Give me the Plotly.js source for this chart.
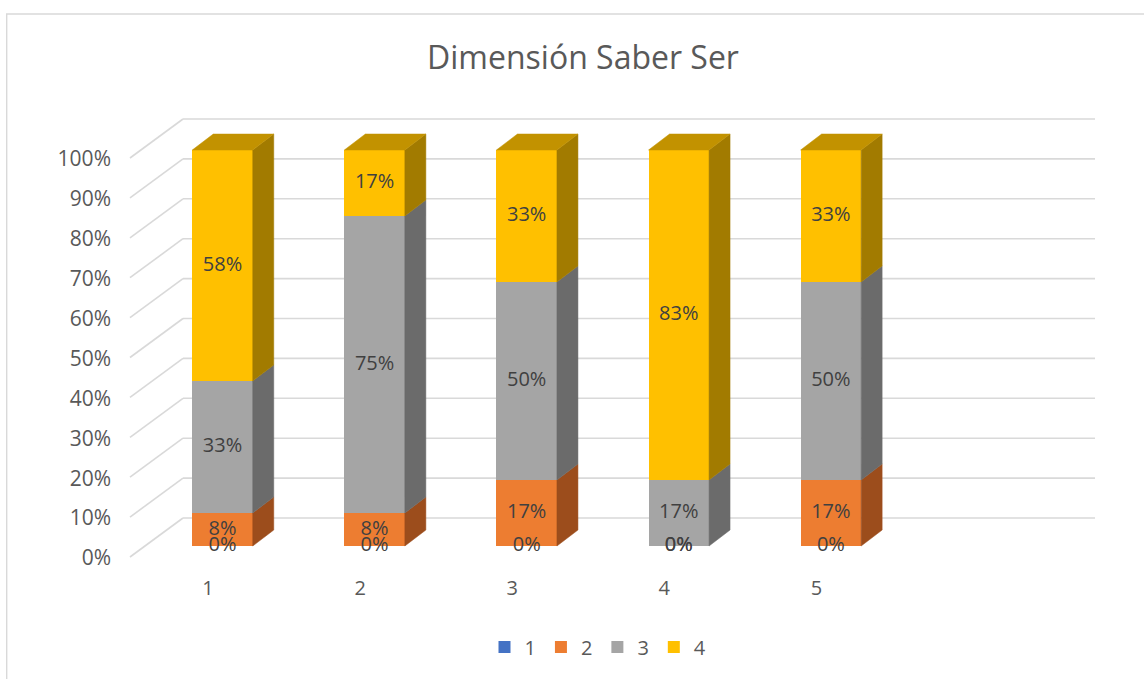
<!DOCTYPE html>
<html>
<head>
<meta charset="utf-8">
<script src="https://cdn.plot.ly/plotly-3.0.1.min.js"></script>
<style>html,body{margin:0;padding:0;background:#fff;}#chart{width:1144px;height:679px;}</style>
</head>
<body>
<div id="chart"></div>
<script>
// ---- data ----
const categories = ['1', '2', '3', '4', '5'];
const seriesNames = ['1', '2', '3', '4'];
const serie1 = [0, 0, 0, 0, 0];
const serie2 = [0.0833, 0.0833, 0.1667, 0, 0.1667];
const serie3 = [0.3333, 0.75, 0.5, 0.1667, 0.5];
const serie4 = [0.5833, 0.1667, 0.3333, 0.8333, 0.3333];
const yTickVals = [0, 0.1, 0.2, 0.3, 0.4, 0.5, 0.6, 0.7, 0.8, 0.9, 1];
const yTickText = ['0%', '10%', '20%', '30%', '40%', '50%', '60%', '70%', '80%', '90%', '100%'];
const chartTitle = 'Dimensión Saber Ser';

// ---- style ----
const W = 1144, H = 679;
const FONT = 'Open Sans, Noto Sans, sans-serif';
const frontCol = ['#4472C4', '#ED7D31', '#A5A5A5', '#FFC000'];
const sideCol = ['#2F5597', '#9C4D1C', '#6B6B6B', '#A27B00'];
const topCol = ['#3A62AA', '#B85F22', '#858585', '#C29200'];
const gridCol = '#D9D9D9';

const series = [serie1, serie2, serie3, serie4];
const xPos = categories.map((c, i) => i + 1);

// axis geometry (pixels -> data)
const unitX = 152.1, cx1 = 222.5;           // px per category, centre of first bar
const unitY = 396, y0px = 546;              // px per 100 %, front-face baseline
const xr = [1 - cx1 / unitX, 1 + (W - cx1) / unitX];
const yr = [-(H - y0px) / unitY, y0px / unitY];
const barW = 60.5 / unitX;
const dX = 21 / unitX, dY = 16 / unitY;     // depth offsets

const traces = [];
// front faces
series.forEach((vals, s) => {
  traces.push({
    type: 'bar', x: xPos, y: vals, name: seriesNames[s], width: barW,
    marker: {color: frontCol[s], line: {width: 0}},
    hoverinfo: 'skip', xaxis: 'x', yaxis: 'y'
  });
});
// side & top faces
const cum = xPos.map(() => 0);
const bases = series.map(vals => vals.map((v, i) => { const b = cum[i]; cum[i] += v; return b; }));
series.forEach((vals, s) => {
  vals.forEach((v, i) => {
    if (v <= 0) return;
    const b = bases[s][i], t = b + v, xrgt = xPos[i] + barW / 2;
    traces.push({
      type: 'scatter', mode: 'lines', fill: 'toself', fillcolor: sideCol[s],
      line: {color: sideCol[s], width: 0.5},
      x: [xrgt, xrgt + dX, xrgt + dX, xrgt, xrgt],
      y: [b, b + dY, t + dY, t, b],
      showlegend: false, hoverinfo: 'skip'
    });
  });
});
xPos.forEach((xc, i) => {
  let topS = -1;
  series.forEach((vals, s) => { if (vals[i] > 0) topS = s; });
  if (topS < 0) return;
  const t = cum[i], xl = xc - barW / 2, xrgt = xc + barW / 2;
  traces.push({
    type: 'scatter', mode: 'lines', fill: 'toself', fillcolor: topCol[topS],
    line: {color: topCol[topS], width: 0.5},
    x: [xl, xl + dX, xrgt + dX, xrgt, xl],
    y: [t, t + dY, t + dY, t, t],
    showlegend: false, hoverinfo: 'skip'
  });
});
// data labels
series.forEach((vals, s) => {
  traces.push({
    type: 'scatter', mode: 'text', x: xPos,
    y: vals.map((v, i) => bases[s][i] + v / 2),
    text: vals.map(v => Math.round(v * 100) + '%'),
    textposition: 'middle center',
    textfont: {family: FONT, size: 20, color: '#404040'},
    showlegend: false, hoverinfo: 'skip', cliponaxis: false
  });
});
// dummy traces for overlay axes
traces.push({type: 'scatter', x: [], y: [], xaxis: 'x', yaxis: 'y2', showlegend: false, hoverinfo: 'skip'});
traces.push({type: 'scatter', x: [], y: [], xaxis: 'x2', yaxis: 'y', showlegend: false, hoverinfo: 'skip'});

// back wall gridlines + floor diagonals
const shapes = [];
const px = p => p / W, py = p => 1 - p / H;
yTickVals.forEach(v => {
  const yBack = 518 - 399 * v, yFront = 557 - 399 * v;
  shapes.push({type: 'line', layer: 'below', xref: 'paper', yref: 'paper',
    x0: px(183), y0: py(yBack), x1: px(1095), y1: py(yBack), line: {color: gridCol, width: 1.6}});
  shapes.push({type: 'line', layer: 'below', xref: 'paper', yref: 'paper',
    x0: px(130), y0: py(yFront), x1: px(183), y1: py(yBack), line: {color: gridCol, width: 1.6}});
});
// chart frame
shapes.push({type: 'rect', layer: 'below', xref: 'paper', yref: 'paper',
  x0: px(6.7), y0: py(14), x1: px(W + 20), y1: py(H + 20), line: {color: gridCol, width: 1.4}});

const labelShift = (cx1 - 208) / unitX;
const layout = {
  width: W, height: H,
  margin: {l: 0, r: 0, t: 0, b: 0, pad: 0},
  paper_bgcolor: '#ffffff', plot_bgcolor: 'rgba(0,0,0,0)',
  font: {family: FONT, color: '#595959'},
  title: {text: chartTitle, font: {family: FONT, size: 32, color: '#595959'},
    x: px(583), xanchor: 'center', xref: 'paper', y: py(58), yanchor: 'middle', yref: 'paper'},
  barmode: 'stack',
  showlegend: true,
  legend: {orientation: 'h', x: px(598), xanchor: 'center', y: py(647), yanchor: 'middle',
    font: {family: FONT, size: 20, color: '#595959'}, traceorder: 'normal', bgcolor: 'rgba(0,0,0,0)'},
  xaxis: {range: xr, domain: [0, 1], visible: false, fixedrange: true},
  yaxis: {range: yr, domain: [0, 1], visible: false, fixedrange: true},
  yaxis2: {overlaying: 'y', anchor: 'free', position: px(111), side: 'left',
    range: [-(H - 558) / 399, 558 / 399], tickvals: yTickVals, ticktext: yTickText,
    showgrid: false, zeroline: false, showline: false, ticks: '',
    tickfont: {family: FONT, size: 21, color: '#595959'}, fixedrange: true},
  xaxis2: {overlaying: 'x', anchor: 'free', position: py(574), side: 'bottom',
    range: [xr[0] + labelShift, xr[1] + labelShift], tickvals: xPos, ticktext: categories,
    showgrid: false, zeroline: false, showline: false, ticks: '',
    tickfont: {family: FONT, size: 20, color: '#595959'}, fixedrange: true},
  shapes: shapes
};

Plotly.newPlot('chart', traces, layout, {displayModeBar: false, staticPlot: true});
</script>
</body>
</html>
